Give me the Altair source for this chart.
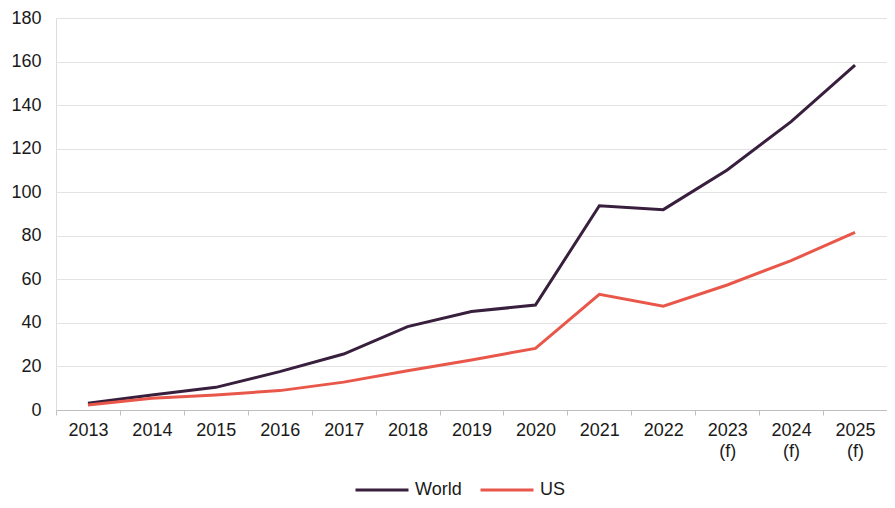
import altair as alt
import pandas as pd

years = ["2013", "2014", "2015", "2016", "2017", "2018", "2019", "2020",
         "2021", "2022", "2023 (f)", "2024 (f)", "2025 (f)"]
world = [3.1, 6.9, 10.4, 17.6, 25.7, 38.3, 45.2, 48.2, 93.8, 92.0, 110.2, 132.4, 158.4]
us = [2.3, 5.4, 6.9, 8.9, 12.8, 18.0, 23.0, 28.3, 53.1, 47.7, 57.4, 68.6, 81.6]
series = ["World", "US"]
colors = ["#381f3d", "#e9574a"]
y_ticks = [0, 20, 40, 60, 80, 100, 120, 140, 160, 180]

rows = []
for name, vals in zip(series, [world, us]):
    for yr, v in zip(years, vals):
        rows.append({"year": yr, "value": v, "series": name})
df = pd.DataFrame(rows)

FONT = "Liberation Sans"

chart = alt.Chart(df).mark_line(strokeWidth=3).encode(
    x=alt.X("year:N", sort=years, bandPosition=0.5,
            scale=alt.Scale(type="band", paddingInner=0, paddingOuter=0),
            axis=alt.Axis(title=None, labelAngle=0, tickBand="extent",
                          labelExpr="isValid(datum.value) ? split(datum.value, ' ') : ''",
                          labelLineHeight=21, tickSize=5, labelPadding=6,
                          domainColor="#bfbfbf", tickColor="#bfbfbf",
                          labelFontSize=18, labelFont=FONT, labelColor="#1a1a1a",
                          grid=False)),
    y=alt.Y("value:Q", scale=alt.Scale(domain=[0, 180], nice=False),
            axis=alt.Axis(title=None, values=y_ticks, ticks=False, tickSize=0,
                          domain=False, labelPadding=15, grid=True,
                          gridColor="#e3e3e3", gridWidth=1,
                          labelFontSize=18, labelFont=FONT, labelColor="#1a1a1a")),
    color=alt.Color("series:N", sort=series,
                    scale=alt.Scale(domain=series, range=colors),
                    legend=alt.Legend(title=None, orient="none", direction="horizontal",
                                      legendX=298, legendY=444,
                                      symbolType="stroke", symbolSize=2809,
                                      symbolStrokeWidth=3, labelFontSize=18,
                                      labelFont=FONT, labelColor="#1a1a1a",
                                      labelOffset=5, columnPadding=12)),
).properties(
    width=831, height=392,
    autosize=alt.AutoSizeParams(type="none"),
    padding={"left": 48, "top": 10, "right": 0, "bottom": 90},
).configure_view(stroke=None).configure(background="white")

chart.save("out.html", embed_options={"renderer": "svg", "actions": False})
